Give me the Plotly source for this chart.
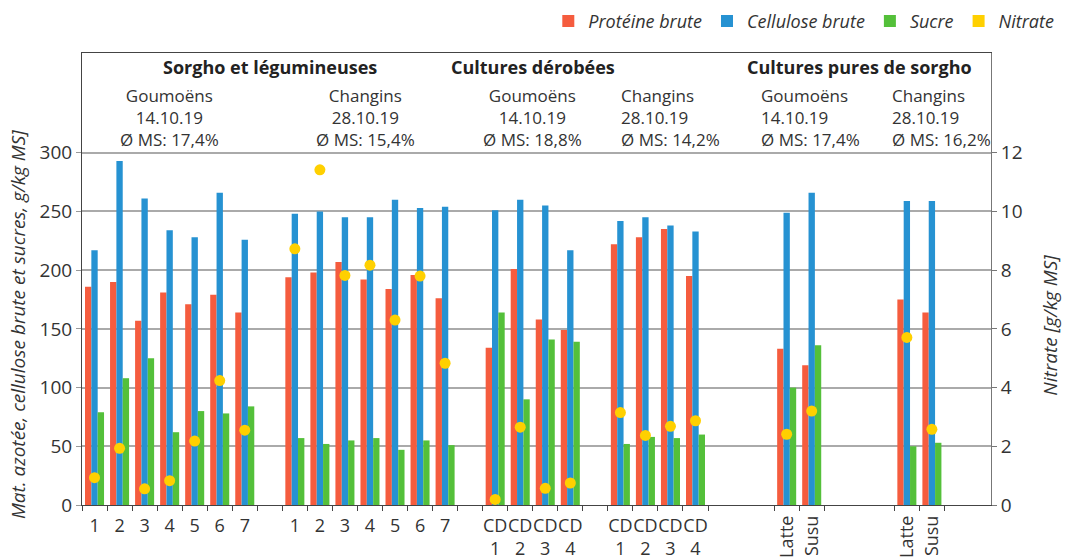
import plotly.graph_objects as go

# ---------------- data ----------------
category_labels = ["1", "2", "3", "4", "5", "6", "7",
                   "1", "2", "3", "4", "5", "6", "7",
                   "CD<br>1", "CD<br>2", "CD<br>3", "CD<br>4",
                   "CD<br>1", "CD<br>2", "CD<br>3", "CD<br>4",
                   "Latte", "Susu",
                   "Latte", "Susu"]
group_sizes = [7, 7, 4, 4, 2, 2]

proteine = [186, 190, 157, 181, 171, 179, 164,
            194, 198, 207, 192, 184, 196, 176,
            134, 201, 158, 149,
            222, 228, 235, 195,
            133, 119,
            175, 164]
cellulose = [217, 293, 261, 234, 228, 266, 226,
             248, 250, 245, 245, 260, 253, 254,
             251, 260, 255, 217,
             242, 245, 238, 233,
             249, 266,
             259, 259]
sucre = [79, 108, 125, 62, 80, 78, 84,
         57, 52, 55, 57, 47, 55, 51,
         164, 90, 141, 139,
         52, 58, 57, 60,
         100, 136,
         50, 53]
nitrate = [0.93, 1.93, 0.55, 0.83, 2.18, 4.24, 2.55,
           8.73, 11.42, 7.82, 8.17, 6.30, 7.80, 4.83,
           0.19, 2.65, 0.57, 0.75,
           3.15, 2.37, 2.68, 2.87,
           2.41, 3.20,
           5.71, 2.58]

group_sites = ["Goumoëns", "Changins", "Goumoëns", "Changins", "Goumoëns", "Changins"]
group_dates = ["14.10.19", "28.10.19", "14.10.19", "28.10.19", "14.10.19", "28.10.19"]
group_ms = ["Ø MS: 17,4%", "Ø MS: 15,4%", "Ø MS: 18,8%", "Ø MS: 14,2%", "Ø MS: 17,4%", "Ø MS: 16,2%"]
section_titles = ["Sorgho et légumineuses", "Cultures dérobées", "Cultures pures de sorgho"]
section_groups = [[0, 1], [2], [4, 5]]

left_ticks = [0, 50, 100, 150, 200, 250, 300]
right_ticks = [0, 2, 4, 6, 8, 10, 12]

# ---------------- layout helpers ----------------
RED = "rgb(245,92,62)"
BLUE = "rgb(38,146,210)"
GREEN = "rgb(84,192,58)"
YELLOW = "rgb(255,208,0)"
TXT = "#333333"
FONT = "Open Sans"

gap_before = [0, 1, 1, 1, 2.64, 2.8]  # empty slots before each group
x_max = 36.3

xs, group_starts, boundaries = [], [], []
pos = 0
for g, n in enumerate(group_sizes):
    pos += gap_before[g]
    group_starts.append(pos)
    xs += [pos + i + 0.5 for i in range(n)]
    boundaries += [pos + k for k in range(n + 1)]
    pos += n
group_centers = [s + n / 2 for s, n in zip(group_starts, group_sizes)]

n_horiz = sum(group_sizes[:4])

fig = go.Figure()
fig.add_trace(go.Bar(x=xs, y=proteine, name="Protéine brute", marker=dict(color=RED, line_width=0)))
fig.add_trace(go.Bar(x=xs, y=cellulose, name="Cellulose brute", marker=dict(color=BLUE, line_width=0)))
fig.add_trace(go.Bar(x=xs, y=sucre, name="Sucre", marker=dict(color=GREEN, line_width=0)))
fig.add_trace(go.Scatter(x=xs, y=nitrate, yaxis="y2", mode="markers", showlegend=False,
                         marker=dict(color=YELLOW, size=11), name="Nitrate"))
fig.add_trace(go.Scatter(x=[None], y=[None], yaxis="y2", mode="markers", name="Nitrate",
                         marker=dict(color=YELLOW, size=12, symbol="square")))
# helper (invisible) traces so the overlay axes are drawn
for ax in ["x2", "x3"]:
    fig.add_trace(go.Scatter(x=[None], y=[None], xaxis=ax, yaxis="y", mode="markers",
                             showlegend=False, hoverinfo="skip"))

annotations = []
block_align = ["center", "center", "center", "left", "left", "left"]
block_shift = [0, -4, 0, 13, 11, 22]
for g in range(len(group_sizes)):
    annotations.append(dict(x=group_centers[g], y=0.858, xref="x", yref="paper",
                            text=group_sites[g] + "<br>" + group_dates[g] + "<br>" + group_ms[g],
                            align=block_align[g], xshift=block_shift[g],
                            showarrow=False, xanchor="center", yanchor="middle",
                            font=dict(family=FONT, size=17, color=TXT)))
for title, gs in zip(section_titles, section_groups):
    cx = sum(group_centers[g] for g in gs) / len(gs)
    annotations.append(dict(x=cx, y=0.969, xref="x", yref="paper", text="<b>" + title + "</b>",
                            showarrow=False, xanchor="center", yanchor="middle",
                            font=dict(family=FONT, size=18, color="#222222")))
annotations.append(dict(x=-0.0704, y=0.398, xref="paper", yref="paper", textangle=-90,
                        text="Mat. azotée, cellulose brute et sucres, g/kg MS]", showarrow=False,
                        xanchor="center", yanchor="middle",
                        font=dict(family=FONT, size=19, color=TXT, style="italic")))
annotations.append(dict(x=1.064, y=0.397, xref="paper", yref="paper", textangle=-90,
                        text="Nitrate [g/kg MS]", showarrow=False,
                        xanchor="center", yanchor="middle",
                        font=dict(family=FONT, size=19, color=TXT, style="italic")))

fig.update_layout(
    width=1070, height=560,
    margin=dict(l=82, r=79, t=53, b=55, autoexpand=False),
    paper_bgcolor="white", plot_bgcolor="white",
    barmode="group", bargap=0.24, bargroupgap=0,
    font=dict(family=FONT, color=TXT),
    legend=dict(orientation="h", xref="container", yref="container", x=0.99, xanchor="right",
                y=0.995, yanchor="top", font=dict(family=FONT, size=18, color=TXT, style="italic"),
                itemwidth=30, tracegroupgap=0, traceorder="normal"),
    xaxis=dict(range=[0, x_max], tickmode="array", tickvals=xs[:n_horiz], ticktext=category_labels[:n_horiz],
               tickangle=0, ticks="", showgrid=False, zeroline=False, showline=True, linecolor="#444444",
               linewidth=1, mirror=True, tickfont=dict(family=FONT, size=18, color=TXT),
               ticklabelstandoff=4, automargin=False),
    xaxis2=dict(range=[0, x_max], overlaying="x", anchor="y", tickmode="array",
                tickvals=xs[n_horiz:], ticktext=category_labels[n_horiz:], tickangle=-90,
                ticks="", showgrid=False, zeroline=False, showline=False,
                tickfont=dict(family=FONT, size=18, color=TXT), ticklabelstandoff=6, automargin=False),
    xaxis3=dict(range=[0, x_max], overlaying="x", anchor="y", tickmode="array",
                tickvals=boundaries, ticktext=[""] * len(boundaries), ticks="outside", ticklen=5,
                tickcolor="#444444", tickwidth=1, showgrid=False, zeroline=False, showline=False,
                automargin=False),
    yaxis=dict(range=[0, 385], tickmode="array", tickvals=left_ticks, ticks="outside", ticklen=5,
               tickcolor="#999999", showgrid=True, gridcolor="#aaaaaa", gridwidth=1.5, zeroline=False,
               showline=True, linecolor="#444444", linewidth=1,
               tickfont=dict(family=FONT, size=19, color=TXT), automargin=False),
    yaxis2=dict(range=[0, 15.4], overlaying="y", side="right", tickmode="array", tickvals=right_ticks,
                ticks="outside", ticklen=5, tickcolor="#777777", showgrid=False, zeroline=False,
                showline=True, linecolor="#777777", linewidth=1,
                tickfont=dict(family=FONT, size=19, color=TXT), automargin=False),
    annotations=annotations,
)

fig.write_html("out.html", config={"displayModeBar": False},
               post_script="document.body.style.margin='0px';")
